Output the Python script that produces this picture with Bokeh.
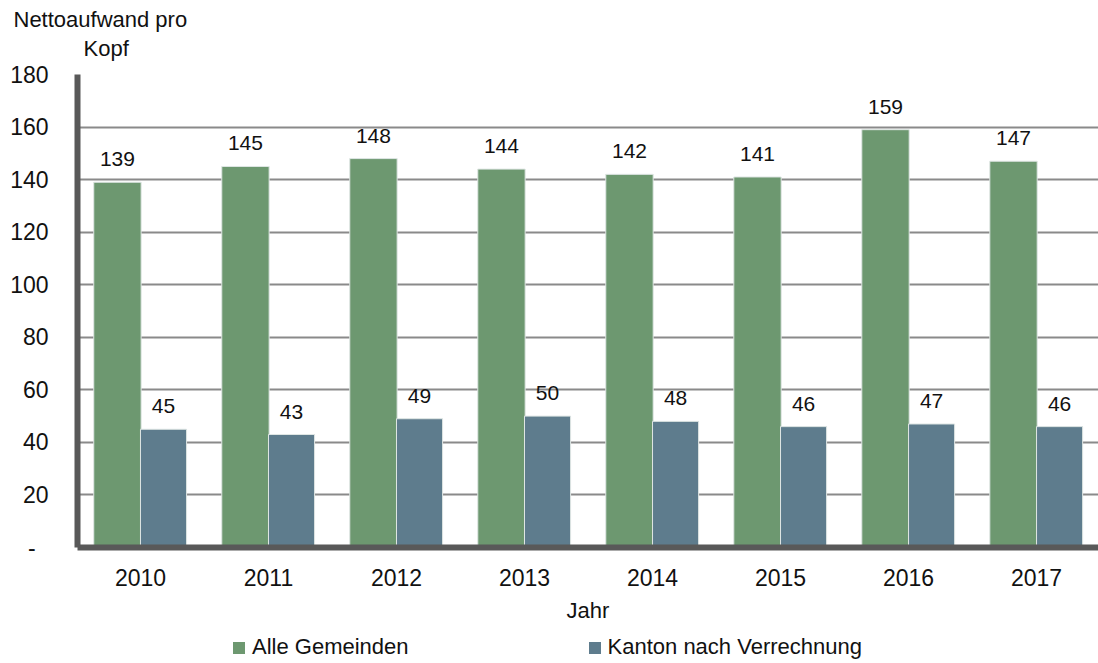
from bokeh.plotting import figure
from bokeh.models import (ColumnDataSource, LabelSet, FixedTicker, Range1d,
                          Legend, LegendItem, Title)
from bokeh.layouts import column
from bokeh.core.properties import value
from bokeh.embed import file_html
from bokeh.resources import INLINE

years = ["2010", "2011", "2012", "2013", "2014", "2015", "2016", "2017"]
alle_gemeinden = [139, 145, 148, 144, 142, 141, 159, 147]
kanton = [45, 43, 49, 50, 48, 46, 47, 46]
series_names = ["Alle Gemeinden", "Kanton nach Verrechnung"]
y_ticks = [0, 20, 40, 60, 80, 100, 120, 140, 160, 180]
title_lines = ["Nettoaufwand pro", "Kopf"]
x_title = "Jahr"

GREEN = "#6D9870"
BLUE = "#5E7C8D"
FONT = "Liberation Sans"
TXT = "#111111"

idx = list(range(len(years)))
src = ColumnDataSource(dict(
    xg=[i - 0.18 for i in idx], xb=[i + 0.18 for i in idx],
    g=alle_gemeinden, b=kanton,
    gl=[str(v) for v in alle_gemeinden], bl=[str(v) for v in kanton],
))

p = figure(width=1098, height=631, output_backend="svg", toolbar_location=None,
           x_range=Range1d(-0.492, 7.484), y_range=Range1d(0, 180),
           min_border_left=77, min_border_right=0, min_border_top=74, min_border_bottom=84)
p.outline_line_color = None
p.background_fill_color = "white"

p.vbar(x="xg", top="g", width=0.37, source=src, fill_color=GREEN,
       line_color="#dfe6e4", line_width=1)
p.vbar(x="xb", top="b", width=0.36, source=src, fill_color=BLUE,
       line_color="#dfe6e4", line_width=1)

for col, y, lab in (("xg", "g", "gl"), ("xb", "b", "bl")):
    p.add_layout(LabelSet(x=col, y=y, text=lab, source=src, y_offset=16,
                          text_align="center", text_baseline="alphabetic",
                          text_font=value(FONT), text_font_size="21px", text_color=TXT))

# grid
p.xgrid.grid_line_color = None
p.ygrid.ticker = FixedTicker(ticks=y_ticks)
p.ygrid.grid_line_color = "#8a8a8a"
p.ygrid.grid_line_width = 2

# y axis
p.yaxis.ticker = FixedTicker(ticks=y_ticks)
p.yaxis.major_label_overrides = {0: "-\u00a0\u00a0"}
p.yaxis.axis_line_color = "#595959"
p.yaxis.axis_line_width = 6
p.yaxis.major_tick_line_color = None
p.yaxis.minor_tick_line_color = None
p.yaxis.major_tick_out = 0
p.yaxis.major_label_standoff = 29
p.yaxis.major_label_text_font = FONT
p.yaxis.major_label_text_font_size = "23px"
p.yaxis.major_label_text_color = TXT

# x axis
p.xaxis.ticker = FixedTicker(ticks=idx)
p.xaxis.major_label_overrides = {i: y for i, y in zip(idx, years)}
p.xaxis.axis_line_color = "#595959"
p.xaxis.axis_line_width = 6
p.xaxis.major_tick_line_color = None
p.xaxis.minor_tick_line_color = None
p.xaxis.major_tick_out = 0
p.xaxis.major_label_standoff = 21
p.xaxis.major_label_text_font = FONT
p.xaxis.major_label_text_font_size = "23px"
p.xaxis.major_label_text_color = TXT
p.xaxis.axis_label = x_title
p.xaxis.axis_label_standoff = 9
p.xaxis.axis_label_text_font = FONT
p.xaxis.axis_label_text_font_size = "22px"
p.xaxis.axis_label_text_font_style = "normal"
p.xaxis.axis_label_text_color = TXT

# caption above the y axis (two lines); a thin spacer keeps it off the frame
spacer = Title(text="\u00a0", align="left", standoff=8, text_font=FONT,
               text_font_size="2px", text_color="white")
t2 = Title(text=title_lines[1], align="left", offset=6, standoff=4,
           text_font=FONT, text_font_size="22px", text_font_style="normal",
           text_color=TXT)
t1 = Title(text=title_lines[0], align="left", offset=-64, standoff=0,
           text_font=FONT, text_font_size="22px", text_font_style="normal",
           text_color=TXT)
p.add_layout(spacer, "above")
p.add_layout(t2, "above")
p.add_layout(t1, "above")

# legend strip below the chart (its bars lie outside its visible range)
q = figure(width=1098, height=32, output_backend="svg", toolbar_location=None,
           x_axis_type=None, y_axis_type=None, x_range=Range1d(0, 1),
           y_range=Range1d(1000, 1001),
           min_border_left=0, min_border_right=0, min_border_top=0, min_border_bottom=0)
q.outline_line_color = None
q.grid.grid_line_color = None
lr1 = q.vbar(x="xg", top="g", width=0.1, source=src, fill_color=GREEN, line_color=None)
lr2 = q.vbar(x="xb", top="b", width=0.1, source=src, fill_color=BLUE, line_color=None)
lg = Legend(items=[LegendItem(label=series_names[0], renderers=[lr1]),
                   LegendItem(label=series_names[1], renderers=[lr2])],
            orientation="horizontal", location=(154, 3))
lg.border_line_color = None
lg.background_fill_alpha = 0
lg.padding = 0
lg.margin = 0
lg.glyph_width = 15
lg.glyph_height = 15
lg.label_standoff = 6
lg.label_width = 0
lg.spacing = 178
lg.label_text_font = FONT
lg.label_text_font_size = "22px"
lg.label_text_color = TXT
lg.label_height = 12
q.add_layout(lg, "center")

open("out.html", "w").write(file_html(column(p, q, spacing=0), INLINE))
